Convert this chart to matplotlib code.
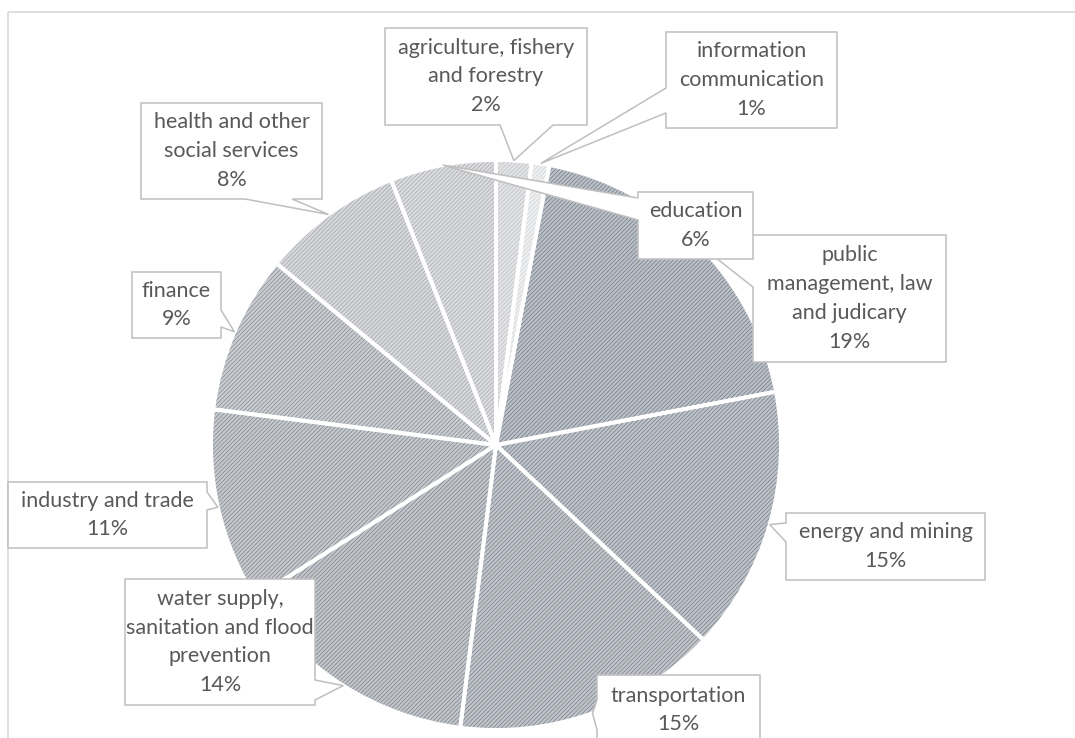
import matplotlib
matplotlib.use("Agg")
import matplotlib.pyplot as plt
from matplotlib.patches import Polygon
import numpy as np

plt.rcParams['font.family'] = ['Lato', 'DejaVu Sans']
plt.rcParams['hatch.linewidth'] = 0.6

W, H = 1075, 738

# ---- data (clockwise from 12 o'clock) ----
categories = ["agriculture, fishery\nand forestry",
              "information\ncommunication",
              "public\nmanagement, law\nand judicary",
              "energy and mining",
              "transportation",
              "water supply,\nsanitation and flood\nprevention",
              "industry and trade",
              "finance",
              "health and other\nsocial services",
              "education"]
shares = [2, 1, 19, 15, 15, 14, 11, 9, 8, 6]

face_colors = ["#e3e4e6", "#eeeff0", "#bcc1c8", "#bfc3ca", "#c2c5cb", "#c3c6cb",
               "#c6c9cd", "#cacdd1", "#d8d9dc", "#dcdde0"]
hatch_colors = ["#c2c4c7", "#d6d7d9", "#7c8490", "#80878f", "#848a92", "#868b92",
                "#898e94", "#8f9398", "#a8abaf", "#adafb3"]

# ---- layout: label boxes (pixel coords, top-left origin) and pointer base ----
boxes = [(385, 28, 587, 125), (666, 32, 837, 128), (753, 235, 946, 362),
         (786, 513, 985, 580), (597, 675, 760, 745), (125, 579, 315, 705),
         (8, 482, 207, 548), (132, 272, 221, 338), (141, 103, 322, 199),
         (638, 192, 753, 259)]
pointers = [("bottom", 500, 553), ("left", 88, 113), ("left", 235, 287),
            ("left", 523, 542), ("left", 700, 730), ("right", 680, 700),
            ("right", 492, 510), ("right", 310, 327), ("bottom", 245, 292),
            ("left", 198, 220)]
draw_order = [0, 1, 2, 9, 3, 4, 5, 6, 7, 8]

CX, CY, R = 496, 445, 285

fig = plt.figure(figsize=(W / 100, H / 100), dpi=100)
ax = fig.add_axes([0, 0, 1, 1])

wedges, _ = ax.pie(shares, colors=face_colors, startangle=90, counterclock=False,
                   center=(CX, H - CY), radius=R,
                   wedgeprops=dict(linewidth=0))
for w, hc in zip(wedges, hatch_colors):
    w.set_hatch('////////')
    w.set_edgecolor(hc)
    w.set_linewidth(0)

ax.pie(shares, colors=['none'] * len(shares), startangle=90, counterclock=False,
       center=(CX, H - CY), radius=R,
       wedgeprops=dict(linewidth=2.8, edgecolor='white'))

ax.set_xlim(0, W)
ax.set_ylim(0, H)
ax.axis('off')

# chart frame
ax.plot([8, W], [H - 12, H - 12], color='#d9d9d9', lw=1.2, zorder=1,
        solid_capstyle='butt')
ax.plot([8, 8], [H - 12, 0], color='#d9d9d9', lw=1.2, zorder=1,
        solid_capstyle='butt')


def callout(box, ptr, tip):
    x0, y0, x1, y1 = box
    edge, a, b = ptr
    pts = [(x0, y0)]
    if edge == 'top':
        pts += [(a, y0), tip, (b, y0)]
    pts += [(x1, y0)]
    if edge == 'right':
        pts += [(x1, a), tip, (x1, b)]
    pts += [(x1, y1)]
    if edge == 'bottom':
        pts += [(b, y1), tip, (a, y1)]
    pts += [(x0, y1)]
    if edge == 'left':
        pts += [(x0, b), tip, (x0, a)]
    return [(px, H - py) for px, py in pts]


for k, i in enumerate(draw_order):
    w = wedges[i]
    mid = np.deg2rad((w.theta1 + w.theta2) / 2)
    tx = w.center[0] + w.r * np.cos(mid)
    ty = H - (w.center[1] + w.r * np.sin(mid))
    poly = Polygon(callout(boxes[i], pointers[i], (tx, ty)), closed=True,
                   facecolor='white', edgecolor='#bfbfbf', lw=1.1,
                   zorder=5 + k * 2, joinstyle='miter')
    ax.add_patch(poly)
    x0, y0, x1, y1 = boxes[i]
    cy = (y0 + min(y1, H + 7)) / 2
    ax.text((x0 + x1) / 2, H - cy, f"{categories[i]}\n{shares[i]}%",
            ha='center', va='center', multialignment='center',
            fontsize=15.5, color='#595959', linespacing=1.55,
            zorder=6 + k * 2)

fig.savefig("out.png", dpi=100)
